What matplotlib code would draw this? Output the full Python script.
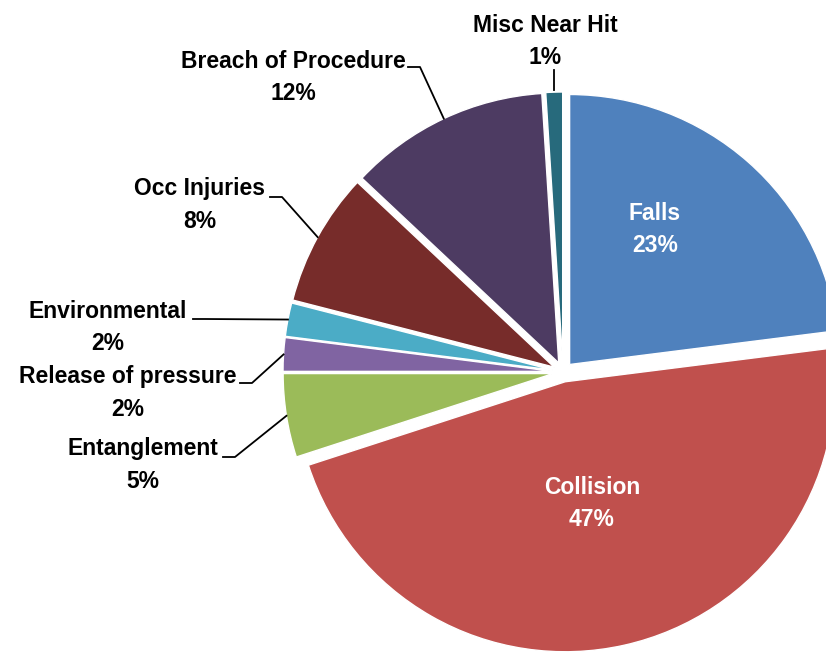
import numpy as np
import matplotlib.pyplot as plt

# slices, clockwise from 12 o'clock
categories = ["Falls", "Collision", "Entanglement", "Release of pressure",
              "Environmental", "Occ Injuries", "Breach of Procedure", "Misc Near Hit"]
shares = [23, 47, 5, 2, 2, 8, 12, 1]
colors = ["#4F81BD", "#C0504D", "#9BBB59", "#8064A2",
          "#4BACC6", "#772C2A", "#4D3B62", "#276A7C"]

W, H = 826, 652
cx, cy, R = 563, 372, 270   # pie centre / radius in image pixels
expl = 10                   # pixels (pie explode is in data units)

fig = plt.figure(figsize=(W / 100, H / 100), dpi=100)
ax = fig.add_axes([0, 0, 1, 1])

def py(y):
    return H - y

wedges, _ = ax.pie(shares, colors=colors, startangle=90, counterclock=False,
                   center=(cx, py(cy)), radius=R, explode=[expl] * len(shares),
                   wedgeprops=dict(edgecolor="white", linewidth=1.0), frame=True)
ax.set_xlim(0, W)
ax.set_ylim(0, H)
ax.set_aspect("equal")
ax.axis("off")

font = dict(fontfamily="Liberation Sans", fontweight="bold", fontsize=16.5)

# inside labels
inside = {"Falls": (655, 229), "Collision": (592, 503)}
# outside labels: text centre, elbow start (x, y) in image pixels
outside = {
    "Misc Near Hit": ((545, 41), None),
    "Breach of Procedure": ((293, 77), (408, 67)),
    "Occ Injuries": ((200, 205), (270, 197)),
    "Environmental": ((108, 327), (193, 319)),
    "Release of pressure": ((128, 393), (240, 383)),
    "Entanglement": ((143, 465), (223, 457)),
}

for w, name, s in zip(wedges, categories, shares):
    label = f"{name}\n{s}%"
    if name in inside:
        x, y = inside[name]
        ax.text(x, py(y), label, color="white", ha="center", va="center",
                linespacing=1.5, **font)
        continue
    (tx, ty), elbow = outside[name]
    ax.text(tx, py(ty), label, color="black", ha="center", va="center",
            linespacing=1.5, **font)
    mid = np.deg2rad((w.theta1 + w.theta2) / 2)
    ox, oy = w.center
    ex, ey = ox + R * np.cos(mid), oy + R * np.sin(mid)
    if elbow is None:
        ax.plot([ex, ex], [ey + 2, py(70)], color="black", lw=1.3)
    else:
        bx, by = elbow
        ax.plot([bx, bx + 12, ex], [py(by), py(by), ey], color="black", lw=1.3)

fig.savefig("out.png", dpi=100, facecolor="white")
